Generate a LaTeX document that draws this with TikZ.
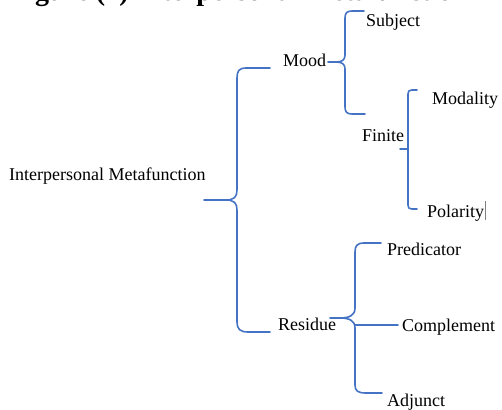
\documentclass[tikz,border=0pt]{standalone}
\usepackage{fontspec}
\setmainfont{Liberation Serif}
\definecolor{brblue}{HTML}{4472C4}
\begin{document}
\begin{tikzpicture}[x=1pt,y=-1pt,
  lbl/.style={anchor=base west,inner sep=0pt,font=\fontsize{18}{20}\selectfont},
  br/.style={draw=brblue,line width=1.6pt,line cap=round,line join=round}]
\useasboundingbox (0,0) rectangle (502,409);
\begin{scope}
\clip (0,0) rectangle (502,409);
\node[anchor=base west,inner sep=0pt,font=\bfseries\fontsize{28}{30}\selectfont] (title) at (10,0.3) {Figure (1) Interpersonal Metafunction};
\end{scope}
% labels
\node[lbl] (ip) at (9,180) {Interpersonal Metafunction};
\node[lbl] (mood) at (283,67) {Mood};
\node[lbl] (subj) at (366,27) {Subject};
\node[lbl] (fin) at (362,141) {Finite};
\node[lbl] (mod) at (432,104) {Modality};
\node[lbl] (pol) at (427,217) {Polarity};
\node[lbl] (res) at (278,330) {Residue};
\node[lbl] (pred) at (387,255) {Predicator};
\node[lbl] (comp) at (402,331) {Complement};
\node[lbl] (adj) at (387,406) {Adjunct};
% cursor mark
\draw[gray,line width=0.6pt] (485,201) -- (485,220);
% big brace
\draw[br] (270,68) -- (246,68) .. controls (239,68) and (237,71) .. (237,78) -- (237,190) .. controls (237,197) and (234,200) .. (226,200) -- (204,200);
\draw[br] (226,200) .. controls (234,200) and (237,203) .. (237,210) -- (237,322) .. controls (237,329) and (240,332) .. (248,332) -- (270,332);
% mood brace
\draw[br] (364,11) -- (352,11) .. controls (347,11) and (345,13) .. (345,18) -- (345,55) .. controls (345,60) and (342,62) .. (336,62) -- (328,62);
\draw[br] (336,62) .. controls (342,62) and (345,64) .. (345,69) -- (345,107) .. controls (345,112) and (347,114) .. (352,114) -- (365,114);
% finite bracket
\draw[br] (417,90) -- (412,90) .. controls (409,90) and (408,91) .. (408,94) -- (408,205) .. controls (408,208) and (409,209) .. (412,209) -- (417,209);
\draw[br] (400,149) -- (408,149);
% residue brace
\draw[br] (381,243) -- (364,243) .. controls (357,243) and (355,246) .. (355,252) -- (355,308) .. controls (355,315) and (350,318) .. (340,318) -- (330,318);
\draw[br] (340,318) .. controls (350,318) and (355,321) .. (355,328) -- (355,385) .. controls (355,391) and (358,393) .. (366,393) -- (382,393);
\draw[br] (355,325) -- (398,325);
\end{tikzpicture}
\end{document}
